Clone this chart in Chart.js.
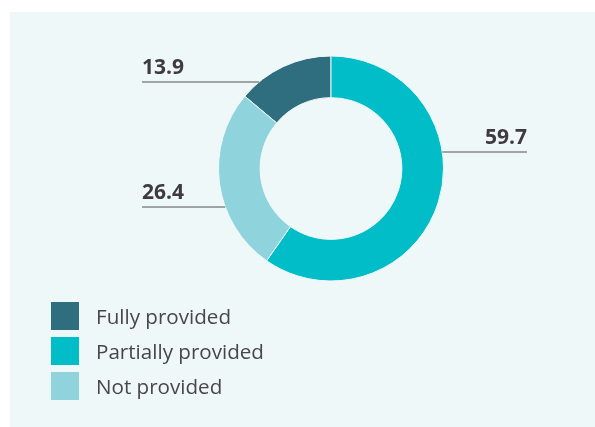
<!DOCTYPE html>
<html>
<head>
<meta charset="utf-8">
<script src="https://cdn.jsdelivr.net/npm/chart.js@4"></script>
<style>
  html, body { margin: 0; padding: 0; background: #ffffff; }
  #wrap { position: relative; width: 595px; height: 427px; overflow: hidden; }
  #panel { position: absolute; left: 10px; top: 12px; right: 0; bottom: 0; background: #eef8f9; }
  #chart { position: absolute; left: 0; top: 0; }
  #legend { position: absolute; left: 51px; top: 302px; font-family: "Open Sans", sans-serif; font-size: 20.6px; color: #4a4548; }
  .row { display: flex; align-items: center; height: 28px; margin-bottom: 7px; }
  .box { width: 28px; height: 28px; margin-right: 17px; }
</style>
</head>
<body>
<div id="wrap">
  <div id="panel"></div>
  <canvas id="chart" width="595" height="427"></canvas>
  <div id="legend"></div>
</div>
<script>
// data
const labels = ['Fully provided', 'Partially provided', 'Not provided'];
const values = [13.9, 59.7, 26.4];
const colors = ['#2f6e7f', '#00bdc8', '#8fd4dc'];

// leader lines: y offset from centre, and where the label sits
const leaders = [
  { dy: -86.5, side: 'left', x: 142 },
  { dy: -16.5, side: 'right', x: 527 },
  { dy: 38.5, side: 'left', x: 142 }
];

const leaderPlugin = {
  id: 'leaders',
  afterDatasetsDraw(chart) {
    const ctx = chart.ctx;
    const meta = chart.getDatasetMeta(0);
    ctx.save();
    meta.data.forEach((arc, i) => {
      const l = leaders[i];
      const r = arc.outerRadius;
      const y = arc.y + l.dy;
      const dx = Math.sqrt(r * r - l.dy * l.dy);
      const edge = l.side === 'left' ? arc.x - dx : arc.x + dx;
      ctx.strokeStyle = '#555052';
      ctx.lineWidth = 1.2;
      ctx.beginPath();
      ctx.moveTo(l.x, y);
      ctx.lineTo(edge, y);
      ctx.stroke();
      ctx.fillStyle = '#3f3a3d';
      ctx.font = 'bold 21px "Open Sans", sans-serif';
      ctx.textAlign = l.side === 'left' ? 'left' : 'right';
      ctx.textBaseline = 'alphabetic';
      ctx.fillText(values[i].toFixed(1), l.x, y - 8);
    });
    ctx.restore();
  }
};

new Chart(document.getElementById('chart'), {
  type: 'doughnut',
  data: {
    labels: labels,
    datasets: [{
      data: values,
      backgroundColor: colors,
      borderColor: '#eef8f9',
      borderWidth: 1
    }]
  },
  options: {
    responsive: false,
    animation: false,
    rotation: -values[0] * 3.6,
    cutout: '63%',
    layout: { padding: { left: 218, right: 151, top: 55, bottom: 145 } },
    plugins: {
      legend: { display: false },
      tooltip: { enabled: false }
    }
  },
  plugins: [leaderPlugin]
});

// legend
const legend = document.getElementById('legend');
labels.forEach((name, i) => {
  const row = document.createElement('div');
  row.className = 'row';
  const box = document.createElement('div');
  box.className = 'box';
  box.style.background = colors[i];
  const txt = document.createElement('span');
  txt.textContent = name;
  row.appendChild(box);
  row.appendChild(txt);
  legend.appendChild(row);
});
</script>
</body>
</html>
